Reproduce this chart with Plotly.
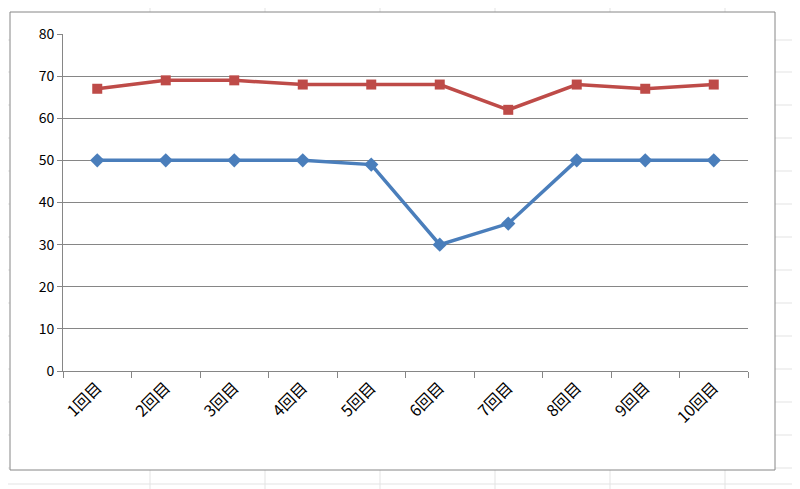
import plotly.graph_objects as go

categories = ["1回目","2回目","3回目","4回目","5回目","6回目","7回目","8回目","9回目","10回目"]
series_red = [67, 69, 69, 68, 68, 68, 62, 68, 67, 68]
series_blue = [50, 50, 50, 50, 49, 30, 35, 50, 50, 50]

fig = go.Figure()
fig.add_trace(go.Scatter(x=categories, y=series_blue, mode="lines+markers",
    line=dict(color="#4A7EBB", width=3.5), marker=dict(symbol="diamond", size=11, color="#4A7EBB")))
fig.add_trace(go.Scatter(x=categories, y=series_red, mode="lines+markers",
    line=dict(color="#BE4B48", width=3.5), marker=dict(symbol="square", size=10, color="#BE4B48")))

W, H = 800, 489
OFF = 8
L, R, T, B = 63 - OFF, 748 - OFF, 34 - OFF, 371 - OFF
def px(x): return (x - OFF - L) / (R - L)
def py(y): return (B - (y - OFF)) / (B - T)

shapes = []
for xv in [150, 265, 380, 495, 610, 725]:
    shapes.append(dict(type="line", xref="paper", yref="paper", x0=px(xv), x1=px(xv), y0=py(0), y1=py(489), line=dict(color="#E3E3E3", width=1), layer="below"))
for yv in [40, 72, 105, 138, 171, 204, 237, 270, 303, 336, 369, 402, 435, 468, 484]:
    shapes.append(dict(type="line", xref="paper", yref="paper", x0=px(0), x1=px(800), y0=py(yv), y1=py(yv), line=dict(color="#E3E3E3", width=1), layer="below"))
shapes.append(dict(type="rect", xref="paper", yref="paper", x0=px(10), x1=px(775), y0=py(470), y1=py(12),
    line=dict(color="#868686", width=1), fillcolor="white", layer="below"))

fig.update_layout(
    width=W, height=H, showlegend=False,
    margin=dict(l=L, r=W - R, t=T, b=H - B, autoexpand=False),
    paper_bgcolor="white", plot_bgcolor="rgba(0,0,0,0)",
    font=dict(family="Noto Sans CJK JP", size=14, color="#000"),
    shapes=shapes,
    xaxis=dict(type="category", categoryarray=categories, tickson="boundaries", ticks="outside",
               ticklen=6, tickcolor="#868686", showline=True, linecolor="#868686", showgrid=False,
               tickangle=-45, range=[-0.5, 9.5], tickfont=dict(size=16)),
    yaxis=dict(range=[0, 80], dtick=10, showgrid=True, gridcolor="#868686", showline=True,
               linecolor="#868686", ticks="outside", ticklen=5, tickcolor="#868686", zeroline=False),
)
fig.write_html("out.html")
